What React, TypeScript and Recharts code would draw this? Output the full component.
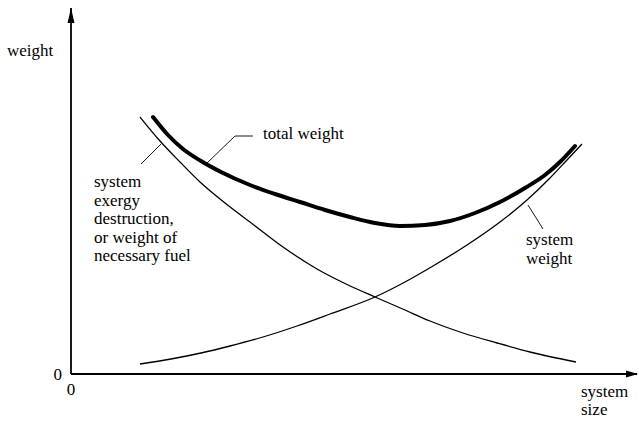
import React from 'react';
import { LineChart, Line, XAxis, YAxis } from 'recharts';

// values (system size → x, weight → y)
const exergyX = [69, 89, 109, 129, 154, 179, 212, 246, 275, 304, 334, 359, 392, 426, 459, 505];
const exergyY = [257, 233, 212, 192, 171, 152, 127, 105, 90, 77, 64, 53, 41, 31, 22, 12];

const systemX = [69, 100, 130, 159, 192, 226, 259, 304, 334, 362, 396, 429, 456, 479, 496, 511];
const systemY = [10, 15, 21, 28, 37, 48, 60, 77, 92, 108, 129, 152, 174, 196, 214, 230];

const totalX = [82, 97, 112, 130, 150, 179, 204, 229, 254, 279, 304, 329, 354, 379, 404, 429, 454, 474, 490, 504];
const totalY = [257, 239, 225, 213, 202, 189, 180, 172, 164, 157, 151, 148, 149, 153, 161, 172, 186, 199, 213, 228];

const xTicks = [0];
const yTicks = [0];

const toPoints = (xs: number[], ys: number[]) => xs.map((x, i) => ({ x, y: ys[i] }));

const exergyData = toPoints(exergyX, exergyY);
const systemData = toPoints(systemX, systemY);
const totalData = toPoints(totalX, totalY);

const font = '"Liberation Serif", "Times New Roman", serif';
const fs = 17;

const textStyle = { fontFamily: font, fontSize: fs, fill: '#000' };

export default function App() {
  return (
    <div style={{ position: 'absolute', left: 0, top: 0, width: 639, height: 421, fontFamily: font, background: '#fff' }}>
      <LineChart width={639} height={421} margin={{ top: 8, right: 2, left: 0, bottom: 0 }}>
        <XAxis
          dataKey="x"
          type="number"
          domain={[0, 566]}
          ticks={xTicks}
          tickLine={false}
          tickMargin={3}
          height={47}
          allowDataOverflow
          axisLine={{ stroke: '#000', strokeWidth: 1.8 }}
          tick={{ fill: '#000', fontSize: fs, fontFamily: font }}
        />
        <YAxis
          type="number"
          domain={[0, 366]}
          ticks={yTicks}
          tickLine={false}
          tickMargin={3}
          width={71}
          allowDataOverflow
          axisLine={{ stroke: '#000', strokeWidth: 1.8 }}
          tick={{ fill: '#000', fontSize: fs, fontFamily: font }}
        />
        <Line data={exergyData} dataKey="y" type="monotone" stroke="#000" strokeWidth={1.3} dot={false} isAnimationActive={false} />
        <Line data={systemData} dataKey="y" type="monotone" stroke="#000" strokeWidth={1.3} dot={false} isAnimationActive={false} />
        <Line data={totalData} dataKey="y" type="monotone" stroke="#000" strokeWidth={4} strokeLinecap="round" dot={false} isAnimationActive={false} />
      </LineChart>

      {/* arrows, leader lines and labels */}
      <svg width={639} height={421} style={{ position: 'absolute', left: 0, top: 0, pointerEvents: 'none' }}>
        <polygon points="71,8 67.5,23 74.5,23" fill="#000" />
        <polygon points="638,374 626,370.5 626,377.5" fill="#000" />

        <polyline points="206,164 235,136 253,136" fill="none" stroke="#000" strokeWidth={0.9} />
        <line x1={161} y1={144} x2={141} y2={164} stroke="#000" strokeWidth={0.9} />
        <line x1={528} y1={205} x2={543} y2={229} stroke="#000" strokeWidth={0.9} />

        <text x={7} y={56} style={textStyle}>weight</text>
        <text x={263} y={139} style={textStyle}>total weight</text>
        <text x={94} y={187} style={textStyle}>system</text>
        <text x={94} y={205.5} style={textStyle}>exergy</text>
        <text x={94} y={224} style={textStyle}>destruction,</text>
        <text x={94} y={242.5} style={textStyle}>or weight of</text>
        <text x={94} y={261} style={textStyle}>necessary fuel</text>
        <text x={526} y={245} style={textStyle}>system</text>
        <text x={526} y={263.5} style={textStyle}>weight</text>
        <text x={581} y={397} style={textStyle}>system</text>
        <text x={581} y={415} style={textStyle}>size</text>
      </svg>
    </div>
  );
}
